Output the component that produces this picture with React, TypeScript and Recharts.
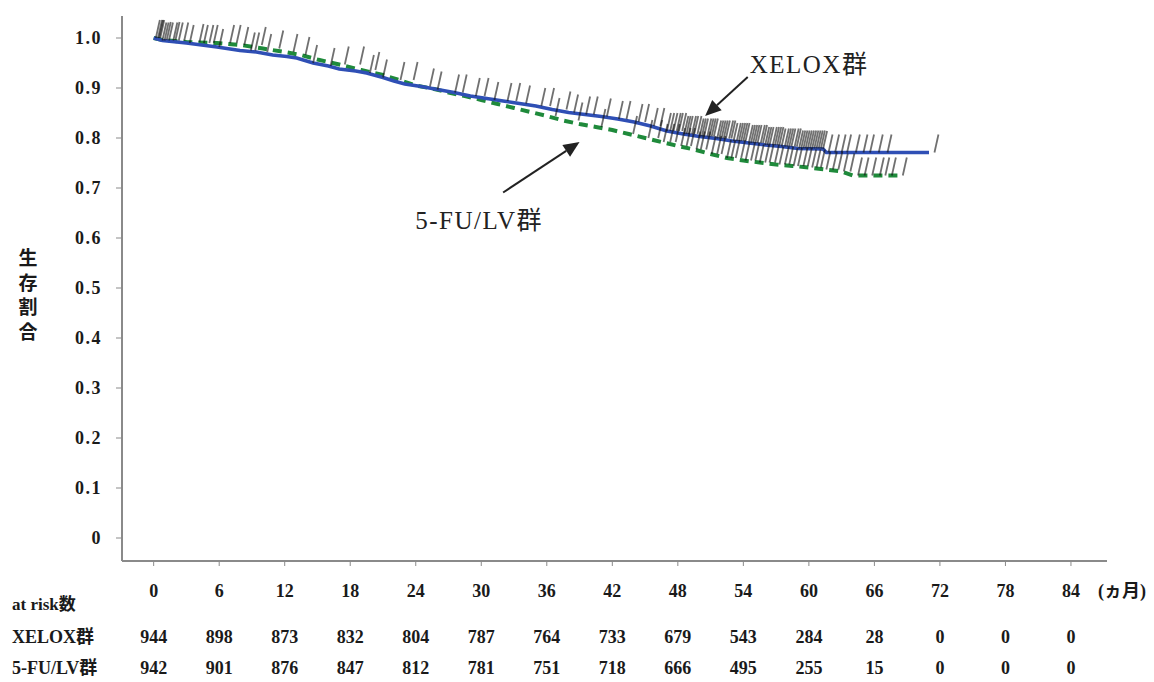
import React from 'react';
import { ComposedChart, Line, Scatter, XAxis, YAxis, ReferenceLine } from 'recharts';

// months on the axis + patients at risk
const months = [0, 6, 12, 18, 24, 30, 36, 42, 48, 54, 60, 66, 72, 78, 84];
const xeloxAtRisk = [944, 898, 873, 832, 804, 787, 764, 733, 679, 543, 284, 28, 0, 0, 0];
const fuAtRisk = [942, 901, 876, 847, 812, 781, 751, 718, 666, 495, 255, 15, 0, 0, 0];
const yTicks = [0, 0.1, 0.2, 0.3, 0.4, 0.5, 0.6, 0.7, 0.8, 0.9, 1.0];

// survival curves
const xeloxT = [0, 0.8, 3, 5.8, 7.9, 9.4, 10.9, 12.2, 13.1, 14.6, 16, 17, 18.5, 19.5, 21, 22, 23, 24.5, 26, 27.5, 29, 30.5, 32, 33.5, 35, 36.5, 38, 39.5, 41, 42.5, 44, 45.5, 47, 48.5, 50, 51.5, 53, 54.5, 56, 57.5, 59, 61.3, 61.6, 71];
const xeloxS = [1.0, 0.995, 0.99, 0.982, 0.975, 0.972, 0.966, 0.963, 0.96, 0.95, 0.944, 0.938, 0.934, 0.93, 0.921, 0.914, 0.908, 0.903, 0.897, 0.891, 0.884, 0.879, 0.874, 0.869, 0.864, 0.857, 0.851, 0.847, 0.843, 0.838, 0.832, 0.824, 0.814, 0.808, 0.803, 0.799, 0.794, 0.79, 0.786, 0.783, 0.779, 0.778, 0.771, 0.771];
const fuT = [0, 0.8, 3, 5.8, 8, 10, 12, 13.5, 15, 17, 19, 21, 22.5, 24, 25.5, 27, 28.5, 30, 31.5, 33, 34.5, 36, 37.5, 39, 40.5, 42, 43.5, 45, 46.5, 48, 49.5, 51, 52.5, 54, 55.5, 57, 58.5, 60, 61.5, 63, 64, 68.3];
const fuS = [1.0, 0.996, 0.992, 0.99, 0.986, 0.979, 0.972, 0.966, 0.957, 0.947, 0.936, 0.926, 0.916, 0.905, 0.899, 0.891, 0.884, 0.876, 0.868, 0.86, 0.852, 0.844, 0.835, 0.828, 0.822, 0.816, 0.808, 0.8, 0.792, 0.784, 0.777, 0.768, 0.76, 0.755, 0.751, 0.747, 0.744, 0.741, 0.737, 0.733, 0.725, 0.725];

// censoring times (tick marks)
const xeloxCensor = [0.2, 0.4, 0.6, 0.8, 1.0, 1.4, 1.8, 2.3, 2.8, 3.3, 4.6, 5.1, 5.5, 6.0, 8.9, 9.3, 10.4, 14.6, 16.2, 19.8, 21.0, 25.3, 26.0, 27.6, 30.3, 32.4, 33.2, 34.1, 35.5, 36.3, 37.8, 38.5, 39.6, 40.3, 41.5, 42.6, 43.3, 44.4, 45.0, 45.8, 46.4, 47.0, 47.3, 47.6, 47.9, 48.1, 48.4, 48.6, 48.8, 49.0, 49.3, 49.5, 49.8, 50.0, 50.2, 50.4, 50.7, 50.9, 51.1, 51.3, 51.6, 51.8, 52.0, 52.2, 52.4, 52.7, 52.9, 53.1, 53.4, 53.6, 53.8, 54.0, 54.2, 54.5, 54.7, 54.9, 55.1, 55.3, 55.6, 55.8, 56.0, 56.2, 56.4, 56.7, 56.9, 57.1, 57.3, 57.5, 57.8, 58.0, 58.2, 58.4, 58.7, 58.9, 59.1, 59.3, 59.5, 59.7, 59.9, 60.1, 60.3, 60.5, 60.7, 60.9, 61.1, 61.3, 61.8, 62.4, 63.0, 63.5, 64.3, 65.0, 65.6, 66.4, 67.2, 71.5];
const fuCensor = [0.5, 1.2, 2.0, 4.2, 7.0, 7.6, 8.3, 9.9, 11.5, 12.8, 13.9, 17.5, 18.9, 20.3, 22.6, 23.8, 28.3, 29.5, 31.2, 36.8, 38.9, 41.0, 43.9, 45.3, 46.2, 46.7, 47.3, 47.8, 48.3, 48.8, 49.2, 49.7, 50.1, 50.6, 51.1, 51.6, 52.0, 52.5, 52.9, 53.3, 53.8, 54.2, 54.7, 55.1, 55.5, 56.0, 56.4, 56.9, 57.3, 57.8, 58.2, 58.6, 59.0, 59.5, 59.9, 60.3, 60.7, 61.1, 61.6, 62.2, 62.7, 63.2, 63.8, 64.5, 65.1, 65.8, 66.5, 67.0, 67.6, 68.6];

const stepAt = (ts: number[], ss: number[], t: number) => {
  let v = ss[0];
  for (let i = 0; i < ts.length; i++) if (ts[i] <= t) v = ss[i];
  return v;
};

const xeloxCurve = xeloxT.map((t, i) => ({ t, s: xeloxS[i] }));
const fuCurve = fuT.map((t, i) => ({ t, s: fuS[i] }));
const xeloxMarks = xeloxCensor.map((t) => ({ t, s: stepAt(xeloxT, xeloxS, t) }));
const fuMarks = fuCensor.map((t) => ({ t, s: stepAt(fuT, fuS, t) }));

const SERIF = '"Liberation Serif", "Times New Roman", "Noto Sans CJK JP", serif';
const AXIS = '#8a8a8a';

const CensorMark = (p: any) => {
  const { cx, cy } = p;
  if (cx == null || cy == null) return null;
  return <line x1={cx} y1={cy} x2={cx + 4} y2={cy - 18} stroke="#111" strokeOpacity={0.6} strokeWidth={1.8} />;
};

const RiskTick = (p: any) => {
  const { x, y, payload } = p;
  const i = months.indexOf(payload.value);
  const style = { fontFamily: SERIF, fontWeight: 700, fontSize: 18, fill: '#1a1a1a' };
  return (
    <g>
      <text x={x} y={y + 23} textAnchor="middle" dominantBaseline="central" {...style}>{payload.value}</text>
      <text x={x} y={y + 69} textAnchor="middle" dominantBaseline="central" {...style}>{xeloxAtRisk[i]}</text>
      <text x={x} y={y + 100} textAnchor="middle" dominantBaseline="central" {...style}>{fuAtRisk[i]}</text>
    </g>
  );
};

const makeArrow = (label: string, dx: number, dy: number, anchor: string) => (p: any) => {
  const { x1, y1, x2, y2 } = p;
  const a = Math.atan2(y2 - y1, x2 - x1);
  const L = 16, W = 7;
  const bx = x2 - L * Math.cos(a), by = y2 - L * Math.sin(a);
  const pts = `${x2},${y2} ${bx - W * Math.sin(a)},${by + W * Math.cos(a)} ${bx + W * Math.sin(a)},${by - W * Math.cos(a)}`;
  return (
    <g>
      <line x1={x1} y1={y1} x2={bx} y2={by} stroke="#222" strokeWidth={2} />
      <polygon points={pts} fill="#222" />
      <text x={x1 + dx} y={y1 + dy} textAnchor={anchor as any} fontFamily={SERIF} fontSize={25} letterSpacing={1.5} fill="#222">{label}</text>
    </g>
  );
};

const label = (left: number, top: number, text: string, extra: any = {}) => (
  <div style={{ position: 'absolute', left, top, fontFamily: SERIF, fontWeight: 700, fontSize: 18, lineHeight: '20px', color: '#1a1a1a', whiteSpace: 'nowrap', ...extra }}>{text}</div>
);

export default function App() {
  return (
    <div style={{ position: 'absolute', left: 0, top: 0, width: 1154, height: 682, background: '#fff' }}>
      <ComposedChart width={1154} height={682} margin={{ top: 16, right: 47, bottom: 0, left: 0 }}>
        <XAxis dataKey="t" type="number" domain={[-2.9, 87.3]} ticks={months} allowDataOverflow
          stroke={AXIS} axisLine={{ stroke: AXIS, strokeWidth: 2 }} tickSize={5} height={121} tick={<RiskTick />} interval={0} />
        <XAxis xAxisId="top" orientation="top" type="number" domain={[0, 1]} height={0} tick={false} tickLine={false}
          axisLine={{ stroke: AXIS, strokeWidth: 2 }} />
        <YAxis type="number" domain={[-0.046, 1.044]} ticks={yTicks} allowDataOverflow width={122} tickSize={6} tickMargin={14}
          stroke={AXIS} axisLine={{ stroke: AXIS, strokeWidth: 2 }} interval={0}
          tickFormatter={(v: number) => (v === 0 ? '0' : v.toFixed(1))}
          tick={{ fontFamily: SERIF, fontWeight: 700, fontSize: 18, fill: '#1a1a1a', letterSpacing: 1.5 }} />
        <YAxis yAxisId="right" orientation="right" type="number" domain={[0, 1]} width={0} tick={false} tickLine={false}
          axisLine={{ stroke: AXIS, strokeWidth: 2 }} />
        <Scatter data={fuMarks} dataKey="s" shape={CensorMark} isAnimationActive={false} />
        <Scatter data={xeloxMarks} dataKey="s" shape={CensorMark} isAnimationActive={false} />
        <Line data={fuCurve} dataKey="s" type="linear" stroke="#1f8a3b" strokeWidth={4} strokeDasharray="9 6" dot={false} isAnimationActive={false} />
        <Line data={xeloxCurve} dataKey="s" type="linear" stroke="#2f4fb5" strokeWidth={3.5} dot={false} isAnimationActive={false} />
        <ReferenceLine segment={[{ x: 54.4, y: 0.922 }, { x: 50.5, y: 0.844 }]} ifOverflow="visible"
          shape={makeArrow('XELOX群', 2, -4, 'start')} />
        <ReferenceLine segment={[{ x: 32.0, y: 0.691 }, { x: 39.0, y: 0.792 }]} ifOverflow="visible"
          shape={makeArrow('5-FU/LV群', -24, 36, 'middle')} />
      </ComposedChart>
      <div style={{ position: 'absolute', left: 15, top: 245, width: 26, fontFamily: '"Noto Sans CJK JP", sans-serif', fontWeight: 700, fontSize: 19, lineHeight: '24.5px', color: '#1a1a1a', textAlign: 'center' }}>
        {'生存割合'.split('').map((c) => <div key={c} style={{ height: 24.5 }}>{c}</div>)}
      </div>
      {label(12, 595, 'at risk数', { fontSize: 17 })}
      {label(12, 627, 'XELOX群')}
      {label(12, 658, '5-FU/LV群')}
      {label(1098, 581, '(ヵ月)')}
    </div>
  );
}
